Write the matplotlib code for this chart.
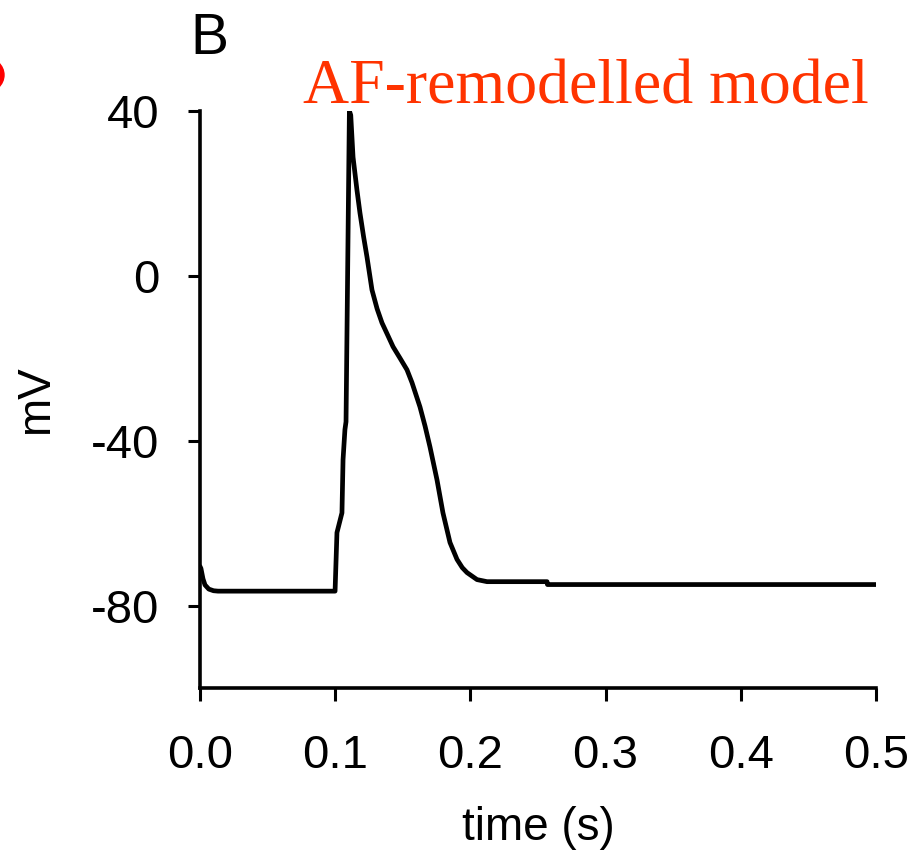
import numpy as np
import matplotlib.pyplot as plt
from matplotlib.patches import Ellipse

# action potential trace, AF-remodelled model
time_s = [0.0, 0.0007, 0.0022, 0.0037, 0.0065, 0.0100, 0.0133, 0.0999, 0.1013,
          0.1050, 0.1058, 0.1072, 0.1080, 0.1105, 0.1115, 0.1132, 0.1161, 0.1183,
          0.1210, 0.1235, 0.1272, 0.1310, 0.1346, 0.1390, 0.1428, 0.1480,
          0.1531, 0.1568, 0.1627, 0.1665, 0.1701, 0.1753, 0.1797, 0.1849,
          0.1901, 0.1940, 0.1975, 0.2049, 0.2123, 0.2567, 0.2570, 0.5]
voltage_mv = [-70.5, -71.0, -73.5, -75.0, -76.0, -76.4, -76.5, -76.5, -62.3,
              -57.5, -44.6, -37.3, -35.4, 40.0, 39.0, 28.8, 20.8, 15.3,
              9.5, 4.6, -3.4, -8.0, -11.4, -14.5, -17.2, -20.0,
              -22.8, -25.9, -31.8, -36.5, -41.5, -49.5, -57.5, -64.7,
              -68.8, -70.8, -72.0, -73.7, -74.2, -74.2, -74.9, -74.9]

xticks = [0.0, 0.1, 0.2, 0.3, 0.4, 0.5]
xticklabels = ['0.0', '0.1', '0.2', '0.3', '0.4', '0.5']
yticks = [-80, -40, 0, 40]
yticklabels = ['-80', '-40', '0', '40']

plt.rcParams['font.family'] = ['Liberation Sans', 'DejaVu Sans']

fig = plt.figure(figsize=(9.2, 8.56), dpi=100)
ax = fig.add_axes([200/920, 1-688/856, 676/920, 577/856])

ax.plot(time_s, voltage_mv, color='black', lw=3.4, solid_joinstyle='round',
        solid_capstyle='round')

ax.set_xlim(0, 0.5)
ax.set_ylim(-100, 40)
ax.set_xticks(xticks)
ax.set_xticklabels(xticklabels)
ax.set_yticks(yticks)
ax.set_yticklabels(yticklabels)
ax.tick_params(labelsize=34, width=2.2, length=9, direction='out')
ax.tick_params(axis='y', pad=20)
ax.tick_params(axis='x', pad=24)
for s in ['top', 'right']:
    ax.spines[s].set_visible(False)
for s in ['left', 'bottom']:
    ax.spines[s].set_linewidth(2.6)

ax.set_xlabel('time (s)', fontsize=33, labelpad=20)
ax.set_ylabel('mV', fontsize=33, labelpad=24)

fig.text(190/920, 1-54/856, 'B', fontsize=41, color='black')
fig.text(303/920, 1-103/856, 'AF-remodelled model', fontsize=46,
         family='Liberation Serif', color='#ff3300')

# edge of the red panel mark from the neighbouring panel
fig.patches.append(Ellipse((-16/920, 1-75/856), 40/920, 36/856,
                           transform=fig.transFigure, color='red'))

fig.savefig('out.png', dpi=100)
